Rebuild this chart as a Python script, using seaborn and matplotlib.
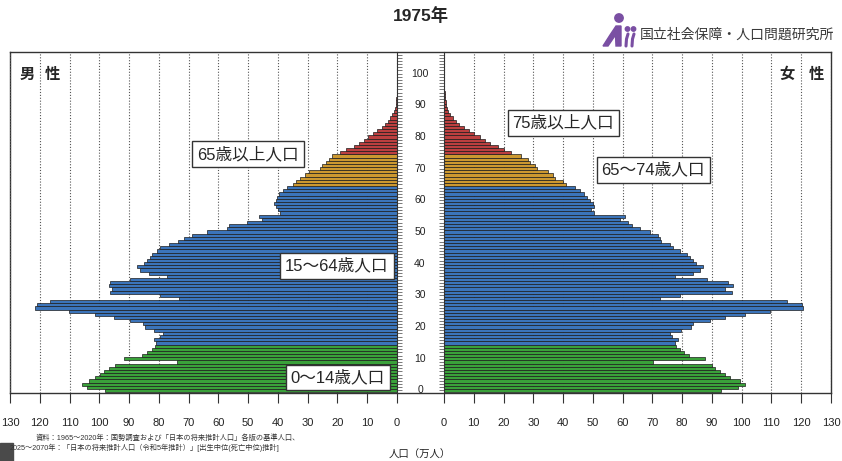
import numpy as np
import pandas as pd
import matplotlib
matplotlib.use('Agg')
import matplotlib.pyplot as plt
import matplotlib.patches as mpatches
import matplotlib.transforms as mtrans
import seaborn as sns

sns.set_style('white')
plt.rcParams['font.family'] = ['Liberation Sans', 'Noto Sans CJK JP']

# population by single age (10,000 persons), ages 0..100
ages = list(range(101))
male = [
    98.2, 104.0, 105.7, 103.6, 101.3, 99.8, 98.3, 96.8, 94.7, 73.9,
    91.8, 85.8, 84.0, 82.4, 81.2, 80.8, 81.5, 79.5, 78.5, 81.5,
    84.5, 85.3, 89.6, 95.2, 101.3, 110.3, 121.5, 121.0, 116.5, 73.2,
    79.5, 96.3, 95.7, 96.9, 96.5, 89.6, 77.3, 83.4, 86.2, 87.3,
    85.1, 84.0, 82.9, 82.3, 80.6, 79.5, 76.7, 73.4, 71.7, 68.9,
    63.8, 57.1, 56.6, 50.4, 45.4, 46.5, 39.2, 40.0, 40.8, 41.2,
    40.8, 40.2, 39.5, 38.3, 36.8, 35.0, 34.0, 32.5, 31.0, 29.5,
    26.0, 25.3, 23.8, 23.0, 21.8, 19.0, 17.0, 14.6, 12.6, 11.2,
    9.6, 8.2, 6.6, 5.2, 4.0, 3.0, 2.2, 1.6, 1.1, 0.75,
    0.5, 0.35, 0.24, 0.16, 0.1, 0.07, 0.05, 0.03, 0.02, 0.01, 0.01,
]
female = [
    93.2, 98.8, 101.1, 99.4, 96.0, 94.4, 92.7, 91.0, 90.0, 70.3,
    87.6, 82.2, 80.6, 79.2, 78.1, 77.5, 78.5, 76.5, 75.8, 79.5,
    83.0, 83.5, 89.3, 94.4, 101.1, 109.5, 120.7, 120.1, 115.1, 72.5,
    79.2, 96.6, 94.3, 97.1, 95.5, 88.2, 77.5, 83.7, 85.9, 87.1,
    84.8, 83.5, 82.6, 81.5, 79.2, 77.0, 75.9, 73.0, 72.5, 71.9,
    69.1, 65.8, 63.0, 61.9, 59.1, 60.7, 50.3, 49.5, 50.3, 50.1,
    49.0, 47.9, 47.0, 45.6, 44.0, 41.1, 40.0, 37.2, 36.6, 35.0,
    31.1, 30.5, 28.8, 28.2, 26.0, 22.5, 20.0, 18.0, 15.5, 13.7,
    12.0, 10.0, 8.3, 6.6, 5.0, 3.9, 2.9, 2.1, 1.5, 1.1,
    0.8, 0.55, 0.38, 0.26, 0.17, 0.11, 0.07, 0.05, 0.03, 0.02, 0.01,
]
group_names = ['0～14', '15～64', '65～74', '75～']
group_colors = ['#29b229', '#2672cf', '#e6a116', '#d12a2a']
x_ticks = list(range(0, 131, 10))
age_ticks = list(range(0, 101, 10))


def age_group(a):
    if a < 15:
        return group_names[0]
    if a < 65:
        return group_names[1]
    if a < 75:
        return group_names[2]
    return group_names[3]


df = pd.DataFrame({'age': ages, 'male': male, 'female': female})
df['group'] = df['age'].map(age_group)
palette = dict(zip(group_names, group_colors))

W, H = 842, 461
fig = plt.figure(figsize=(W / 100, H / 100), dpi=100)


def rect(x0, y0, x1, y1):
    return [x0 / W, 1 - y1 / H, (x1 - x0) / W, (y1 - y0) / H]


# outer frame
bg = fig.add_axes(rect(10, 52, 831, 393))
bg.set_xticks([])
bg.set_yticks([])
for s in bg.spines.values():
    s.set_color('#333333')
    s.set_linewidth(1.0)

ax_l = fig.add_axes(rect(10, 52, 397, 393))
ax_r = fig.add_axes(rect(444, 52, 831, 393))

for ax, col in [(ax_l, 'male'), (ax_r, 'female')]:
    sns.barplot(data=df, x=col, y='age', hue='group', palette=palette,
                orient='h', native_scale=True, dodge=False, width=1.0,
                errorbar=None, edgecolor='#1c1c1c', linewidth=0.5,
                legend=False, ax=ax)
    ax.patch.set_visible(False)
    ax.set_ylim(-0.8, 106.8)
    ax.set_xticks(x_ticks)
    ax.set_xticklabels([str(t) for t in x_ticks], fontsize=8, color='#222222')
    ax.set_yticks(np.arange(0, 107))
    ax.set_yticklabels([])
    ax.set_xlabel('')
    ax.set_ylabel('')
    ax.set_axisbelow(True)
    ax.xaxis.grid(True, linestyle=(0, (1, 1.6)), color='#555555', linewidth=0.8)
    ax.yaxis.grid(False)
    ax.tick_params(axis='x', direction='out', length=7, width=0.8,
                   color='#333333', pad=11, bottom=True)
    ax.tick_params(axis='y', direction='out', length=3.5, width=0.5,
                   color='#444444')
    for s in ax.spines.values():
        s.set_visible(False)

ax_l.set_xlim(130, 0)
ax_l.yaxis.tick_right()
ax_l.spines['right'].set_visible(True)
ax_l.spines['right'].set_color('#333333')

ax_r.set_xlim(0, 130)
ax_r.yaxis.tick_left()
ax_r.spines['left'].set_visible(True)
ax_r.spines['left'].set_color('#333333')

# age labels in the middle
trans = mtrans.blended_transform_factory(ax_r.transAxes, ax_r.transData)
for a in age_ticks:
    ax_r.text(-24 / 387, a, str(a), transform=trans, ha='center',
              va='center', fontsize=7.5, color='#222222')

# group labels
box = dict(boxstyle='square,pad=0.3', fc='white', ec='#333333', lw=1.0)
ax_l.text(50.1, 74.6, '65歳以上人口', ha='center', va='center', fontsize=12, bbox=box)
ax_l.text(20.2, 39.3, '15～64歳人口', ha='center', va='center', fontsize=12, bbox=box)
ax_l.text(19.9, 4.1, '0～14歳人口', ha='center', va='center', fontsize=12, bbox=box)
ax_r.text(40.1, 84.5, '75歳以上人口', ha='center', va='center', fontsize=12, bbox=box)
ax_r.text(70.3, 69.6, '65～74歳人口', ha='center', va='center', fontsize=12, bbox=box)

fig.text(27 / W, 1 - 75 / H, '男', ha='center', va='center', fontsize=11, fontweight='bold')
fig.text(52 / W, 1 - 75 / H, '性', ha='center', va='center', fontsize=11, fontweight='bold')
fig.text(787 / W, 1 - 75 / H, '女', ha='center', va='center', fontsize=11, fontweight='bold')
fig.text(816 / W, 1 - 75 / H, '性', ha='center', va='center', fontsize=11, fontweight='bold')

fig.text(421 / W, 1 - 16 / H, '1975年', ha='center', va='center',
         fontsize=12.5, fontweight='bold')

# logo
fig.text(640 / W, 1 - 35 / H, '国立社会保障・人口問題研究所', ha='left', va='center',
         fontsize=10, color='#3a3a3a')
ax_logo = fig.add_axes(rect(598, 8, 638, 48))
ax_logo.set_xlim(0, 40)
ax_logo.set_ylim(40, 0)
ax_logo.axis('off')
purple = '#7a4fa3'
ax_logo.add_patch(mpatches.Polygon([(5, 38), (12, 27), (18, 18), (23, 18), (23, 38),
                                    (18, 38), (17.5, 27), (10, 38)], color=purple))
ax_logo.add_patch(mpatches.Circle((21, 10), 4.2, color=purple))
ax_logo.add_patch(mpatches.Circle((29.5, 21), 2.2, color=purple))
ax_logo.add_patch(mpatches.Circle((35.5, 21), 2.2, color=purple))
ax_logo.plot([30, 28.5, 28], [26, 31, 38], color=purple, lw=2.2, solid_capstyle='round')
ax_logo.plot([36, 34.5, 34], [26, 31, 38], color=purple, lw=2.2, solid_capstyle='round')

# notes
fig.text(36 / W, 1 - 438 / H,
         '資料：1965～2020年：国勢調査および「日本の将来推計人口」各版の基準人口、',
         ha='left', va='center', fontsize=5.2, color='#333333')
fig.text(10 / W, 1 - 448 / H,
         '2025～2070年：「日本の将来推計人口（令和5年推計）」[出生中位(死亡中位)推計]',
         ha='left', va='center', fontsize=5.2, color='#333333')
fig.text(420 / W, 1 - 455 / H, '人口（万人）', ha='center', va='center',
         fontsize=7.5, color='#222222')
fig.add_artist(mpatches.Rectangle((0, 0), 13 / W, 18 / H, transform=fig.transFigure,
                                  color='#4a4a4a'))

fig.savefig('out.png', dpi=100, facecolor='white')
